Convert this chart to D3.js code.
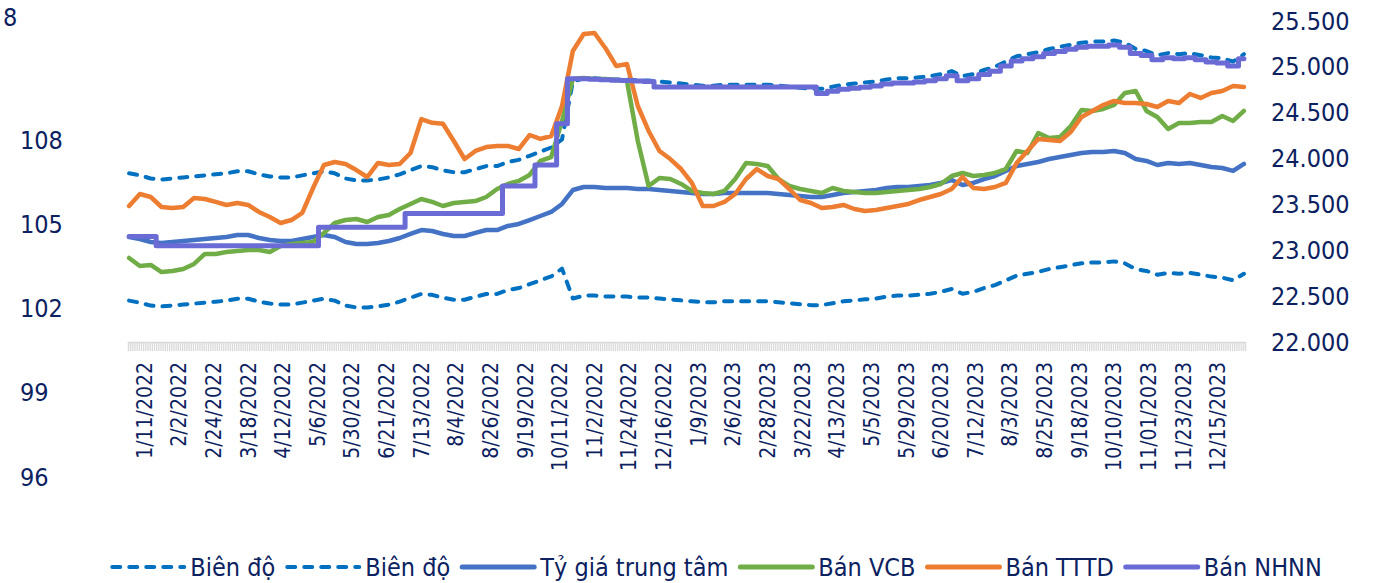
<!DOCTYPE html>
<html>
<head>
<meta charset="utf-8">
<script src="https://cdn.jsdelivr.net/npm/d3@7"></script>
<style>
  body { margin: 0; background: #fff; }
  text { font-family: "DejaVu Sans Condensed", "DejaVu Sans", sans-serif; fill: #0b2160; }
</style>
</head>
<body>
<script>
var w = 1383;
var h = 583;

// weekday categories, 12/31/2021 .. 12/29/2023
var N = 516;
var step = 5;          // one reading per week (every 5th category)
var firstLabel = 7;    // 1/11/2022
var labelEvery = 16;

var tickLabels = ["1/11/2022","2/2/2022","2/24/2022","3/18/2022","4/12/2022","5/6/2022","5/30/2022",
  "6/21/2022","7/13/2022","8/4/2022","8/26/2022","9/19/2022","10/11/2022","11/2/2022","11/24/2022",
  "12/16/2022","1/9/2023","2/6/2023","2/28/2023","3/22/2023","4/13/2023","5/5/2023","5/29/2023",
  "6/20/2023","7/12/2023","8/3/2023","8/25/2023","9/18/2023","10/10/2023","11/01/2023","11/23/2023","12/15/2023"];

var rightTicks = [22000, 22500, 23000, 23500, 24000, 24500, 25000, 25500];
var leftTicks = [96, 99, 102, 105, 108];

var bienDoTren = [23839,23817,23783,23772,23783,23794,23805,23817,23828,23839,
  23862,23862,23828,23805,23794,23794,23817,23839,23862,23839,
  23783,23761,23761,23772,23794,23828,23873,23918,23906,23873,
  23851,23851,23885,23918,23918,23963,23986,24030,24075,24121,
  24210,24840,24875,24875,24863,24863,24863,24851,24851,24840,
  24829,24818,24806,24795,24795,24806,24806,24806,24806,24806,
  24795,24783,24772,24760,24760,24783,24806,24818,24829,24840,
  24863,24875,24875,24886,24898,24921,24954,24898,24921,24966,
  25001,25058,25115,25138,25161,25195,25218,25241,25264,25276,
  25276,25287,25264,25195,25173,25127,25150,25138,25150,25127,
  25103,25092,25058,25138];

var bienDoDuoi = [22451,22429,22397,22388,22397,22408,22419,22429,22440,22451,
  22472,22472,22440,22419,22408,22408,22429,22451,22472,22451,
  22397,22377,22377,22388,22408,22440,22483,22524,22514,22483,
  22461,22461,22493,22524,22524,22567,22588,22630,22673,22715,
  22800,22474,22506,22506,22495,22495,22495,22485,22485,22474,
  22465,22454,22444,22433,22433,22444,22444,22444,22444,22444,
  22433,22423,22412,22402,22402,22423,22444,22454,22465,22474,
  22495,22506,22506,22516,22526,22547,22578,22526,22547,22588,
  22620,22672,22723,22744,22765,22795,22816,22837,22858,22868,
  22868,22879,22858,22795,22775,22734,22754,22744,22754,22734,
  22713,22702,22672,22744];

var trungTam = [23145,23123,23090,23080,23090,23101,23112,23123,23134,23145,
  23167,23167,23134,23112,23101,23101,23123,23145,23167,23145,
  23090,23069,23069,23080,23101,23134,23178,23221,23210,23178,
  23156,23156,23189,23221,23221,23265,23287,23330,23374,23418,
  23505,23657,23690,23690,23679,23679,23679,23668,23668,23657,
  23647,23636,23625,23614,23614,23625,23625,23625,23625,23625,
  23614,23603,23592,23581,23581,23603,23625,23636,23647,23657,
  23679,23690,23690,23701,23712,23734,23766,23712,23734,23777,
  23810,23865,23919,23941,23963,23995,24017,24039,24061,24072,
  24072,24083,24061,23995,23974,23930,23952,23941,23952,23930,
  23908,23897,23865,23941];

var banVCB = [22916,22829,22840,22763,22774,22796,22851,22960,22960,22981,
  22992,23003,23003,22981,23047,23069,23080,23090,23189,23298,
  23330,23341,23308,23363,23385,23450,23505,23559,23527,23483,
  23516,23527,23537,23581,23668,23723,23756,23821,23974,24017,
  24410,24868,24879,24868,24868,24857,24846,24192,23701,23788,
  23777,23723,23647,23625,23614,23647,23777,23952,23941,23919,
  23777,23701,23668,23647,23625,23679,23647,23636,23625,23625,
  23636,23647,23657,23668,23690,23723,23810,23843,23810,23821,
  23843,23886,24083,24061,24279,24224,24235,24355,24530,24519,
  24541,24584,24715,24737,24519,24453,24323,24388,24388,24399,
  24399,24464,24410,24519];

var banTTTD = [23483,23614,23581,23472,23461,23472,23570,23559,23527,23494,
  23516,23494,23418,23363,23298,23330,23407,23679,23930,23963,
  23941,23875,23799,23952,23930,23941,24061,24430,24390,24380,
  24192,23995,24083,24126,24137,24137,24104,24257,24214,24246,
  24573,25173,25358,25369,25206,25010,25031,24573,24301,24083,
  23995,23886,23734,23483,23483,23527,23614,23777,23886,23810,
  23777,23668,23548,23516,23461,23472,23494,23450,23428,23439,
  23461,23483,23505,23548,23581,23614,23668,23799,23679,23668,
  23690,23734,23952,24083,24214,24203,24192,24290,24453,24519,
  24584,24628,24606,24606,24595,24562,24628,24606,24704,24661,
  24715,24737,24791,24780];

var banNHNN = [23150,23150,23150,23050,23050,23050,23050,23050,23050,23050,
  23050,23050,23050,23050,23050,23050,23050,23050,23250,23250,
  23250,23250,23250,23250,23250,23250,23400,23400,23400,23400,
  23400,23400,23400,23400,23400,23700,23700,23700,23930,23930,
  24380,24870,24870,24865,24860,24855,24850,24845,24840,24780,
  24780,24780,24780,24780,24780,24780,24780,24780,24780,24780,
  24780,24780,24780,24780,24710,24733,24756,24768,24779,24790,
  24813,24825,24825,24836,24848,24871,24904,24848,24871,24916,
  24951,25008,25065,25088,25111,25145,25168,25191,25214,25226,
  25226,25237,25214,25145,25123,25077,25100,25088,25100,25077,
  25053,25042,25008,25088];

var svg = d3.select("body").append("svg")
  .attr("width", w)
  .attr("height", h)
  .style("background-color", "white");

var x = d3.scaleBand().domain(d3.range(N)).range([128, 1245]);
var xEdge = d3.scaleLinear().domain([0, N]).range([128, 1245]);
var y = d3.scaleLinear().domain([22000, 25500]).range([342, 21]);
var yLeft = d3.scaleLinear().domain([96, 108]).range([477, 140]);

var vn = d3.formatLocale({decimal: ",", thousands: ".", grouping: [3], currency: ["", ""]});

// dense grey tick band of the category axis
var band = svg.append("g")
  .attr("transform", "translate(0," + y(22000) + ")")
  .call(d3.axisBottom(xEdge).tickValues(d3.range(N + 1)).tickSize(9).tickFormat(""));
band.selectAll("line, path").attr("stroke", "#d9d9d9").attr("stroke-width", 1.3);

// date labels
var xLab = svg.append("g")
  .attr("transform", "translate(0,362)")
  .call(d3.axisBottom(x)
    .tickValues(tickLabels.map(function(d, j){ return firstLabel + j * labelEvery; }))
    .tickFormat(function(d, j){ return tickLabels[j]; })
    .tickSize(0));
xLab.select(".domain").remove();
xLab.selectAll("text")
  .attr("x", 0).attr("y", 0).attr("dy", "0.35em")
  .attr("transform", "rotate(-90)")
  .style("text-anchor", "end")
  .style("font-size", "21px")
  .style("font-family", null)
  .attr("fill", null);
xLab.attr("font-family", null).attr("font-size", null);

// right axis
var yR = svg.append("g")
  .attr("transform", "translate(1271,0)")
  .call(d3.axisRight(y).tickValues(rightTicks).tickSize(0).tickPadding(0).tickFormat(vn.format(",")));
yR.select(".domain").remove();
yR.attr("font-family", null).attr("font-size", null);
yR.selectAll("text").style("font-size", "25px").attr("fill", null);

// left axis (secondary, no series on it)
var yL = svg.append("g")
  .attr("transform", "translate(20,0)")
  .call(d3.axisRight(yLeft).tickValues(leftTicks).tickSize(0).tickPadding(0));
yL.select(".domain").remove();
yL.attr("font-family", null).attr("font-size", null);
yL.selectAll("text").style("font-size", "25px").attr("fill", null);

// stray label cut at the top left corner
svg.append("text")
  .attr("x", 3).attr("y", 17).attr("dy", "0.35em")
  .style("font-size", "25px")
  .text("8");

var line = d3.line()
  .x(function(d, i){ return x(i * step) + x.bandwidth() / 2; })
  .y(function(d){ return y(d); });

var series = [
  {name: "Biên độ", data: bienDoTren, color: "#0070c0", width: 4, dash: "8,9"},
  {name: "Biên độ", data: bienDoDuoi, color: "#0070c0", width: 4, dash: "8,9"},
  {name: "Tỷ giá trung tâm", data: trungTam, color: "#4472c4", width: 4.5},
  {name: "Bán VCB", data: banVCB, color: "#70ad47", width: 4.5},
  {name: "Bán TTTD", data: banTTTD, color: "#ed7d31", width: 4.5},
  {name: "Bán NHNN", data: banNHNN, color: "#6b6bd6", width: 5, curve: d3.curveStep}
];

series.forEach(function(s){
  svg.append("path")
    .datum(s.data)
    .attr("fill", "none")
    .attr("stroke", s.color)
    .attr("stroke-width", s.width)
    .attr("stroke-linejoin", "round")
    .attr("stroke-linecap", "round")
    .attr("stroke-dasharray", s.dash || null)
    .attr("d", line.curve(s.curve || d3.curveLinear));
});

// legend
var leg = svg.append("g");
var cx = 0;
series.forEach(function(s){
  leg.append("line")
    .attr("x1", cx).attr("x2", cx + 72)
    .attr("y1", 0).attr("y2", 0)
    .attr("stroke", s.color)
    .attr("stroke-width", s.dash ? 4 : 5)
    .attr("stroke-linecap", "round")
    .attr("stroke-dasharray", s.dash || null);
  var t = leg.append("text")
    .attr("x", cx + 78).attr("y", 0).attr("dy", "0.35em")
    .style("font-size", "25px")
    .text(s.name);
  cx += 78 + t.node().getComputedTextLength() + 12;
});
leg.attr("transform", "translate(" + (717 - (cx - 12) / 2) + ",567)");
</script>
</body>
</html>
